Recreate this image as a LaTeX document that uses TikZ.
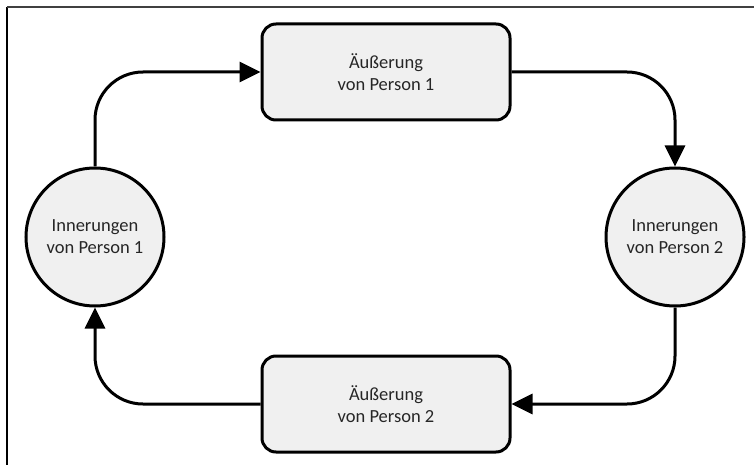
\documentclass[tikz,border=0pt]{standalone}
\usepackage{fontspec}
\setmainfont{Carlito}
\usepackage{tikz}
\usetikzlibrary{positioning,arrows.meta}
\usepackage{xcolor}

\begin{document}
\begin{tikzpicture}[x=1pt,y=-1pt,
  font=\fontsize{18.5}{22}\selectfont,
  utter/.style={draw,line width=3pt,fill=black!6,rounded corners=14pt,align=center,text=black!85,minimum width=248pt,minimum height=96pt},
  memory/.style={circle,draw,line width=3pt,fill=black!6,align=center,text=black!85,minimum size=138pt,inner sep=0pt},
  flow/.style={line width=3pt,rounded corners=48pt,-{Triangle[length=21pt,width=20pt]}}]
\useasboundingbox (0,0) rectangle (754,465);
\draw[line width=1.5pt] (7,465) -- (7,7);
\draw[line width=1.5pt,black!75] (7,7) -- (754,7);
\node[utter] (aeu1) at (386,72) {Äußerung\\von Person 1};
\node[utter] (aeu2) at (386,404) {Äußerung\\von Person 2};
\node[memory] (inn1) at (95,237) {Innerungen\\von Person 1};
\node[memory] (inn2) at (675,237) {Innerungen\\von Person 2};
\draw[flow] (inn1.north) |- (aeu1.west);
\draw[flow] (aeu1.east) -| (inn2.north);
\draw[flow] (inn2.south) |- (aeu2.east);
\draw[flow] (aeu2.west) -| (inn1.south);
\end{tikzpicture}
\end{document}
